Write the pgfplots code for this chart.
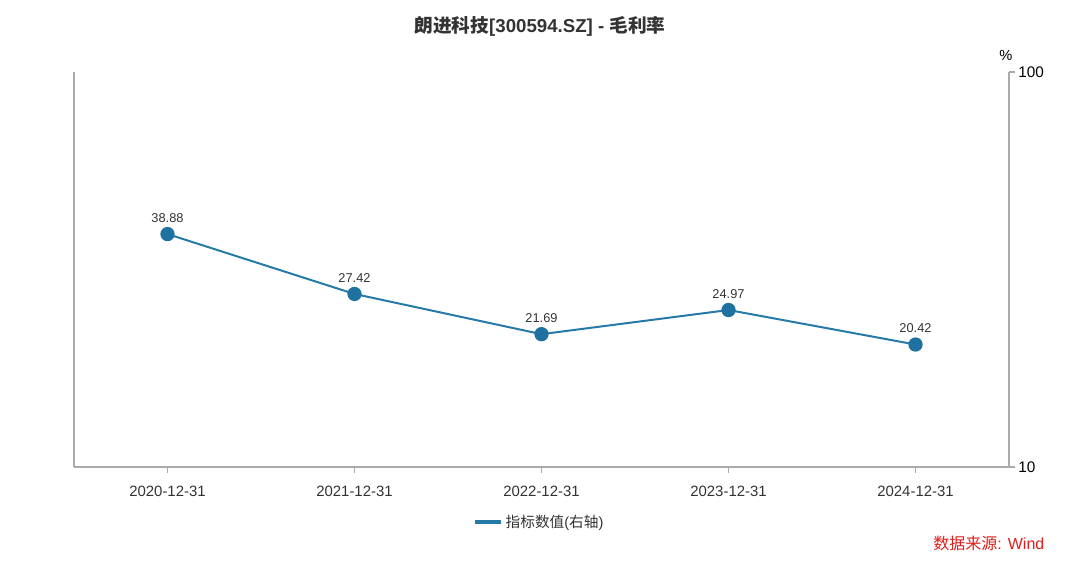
\documentclass[border=0pt]{standalone}
\usepackage{pgfplots}
\pgfplotsset{compat=1.18}
\usepackage{fontspec}
\setmainfont{Liberation Sans}
\newfontfamily\cjk{Noto Sans CJK SC}
\definecolor{lineblue}{RGB}{38,122,168}
\definecolor{dotblue}{RGB}{31,114,160}
\definecolor{axgray}{RGB}{170,170,170}
\definecolor{txt}{RGB}{51,51,51}
\definecolor{srcred}{RGB}{222,30,28}
\begin{document}
\begin{tikzpicture}[x=0.75pt,y=0.75pt]
\useasboundingbox (0,0) rectangle (1080,563);
\begin{axis}[
  at={(55.5pt,72pt)}, anchor=south west,
  scale only axis, width=701.25pt, height=296.25pt,
  xmin=-0.5, xmax=4.5,
  ymode=log, ymin=10, ymax=100,
  axis x line*=bottom, axis y line*=right,
  axis line style={axgray, line width=1.1pt, -},
  xtick={0,1,2,3,4},
  xticklabels={2020-12-31,2021-12-31,2022-12-31,2023-12-31,2024-12-31},
  ytick={10,100}, yticklabels={10,100},
  minor ytick={}, minor tick length=0pt,
  tick align=outside, major tick length=4.5pt,
  tick style={axgray, line width=1pt},
  x tick label style={font=\fontsize{11.2}{13}\selectfont, text=txt, yshift=-6.5pt},
  y tick label style={font=\fontsize{11.5}{13}\selectfont, text=black, xshift=-1pt},
  /pgf/number format/assume math mode=true,
  point meta=rawy,
  nodes near coords,
  nodes near coords style={font=\fontsize{9.6}{11}\selectfont, text=txt, anchor=south, yshift=4.5pt,
     /pgf/number format/.cd, fixed, precision=2, zerofill, assume math mode=true},
  legend style={at={(0.498,-0.139)}, anchor=center, draw=none, fill=none,
     font=\fontsize{11}{13}\selectfont, text=txt, legend columns=1},
  legend image code/.code={\draw[lineblue, line width=2.4pt] (-4.5pt,0pt) -- (15.5pt,0pt);},
  clip=false,
]
\addplot[lineblue, line width=1.5pt, mark=*, mark size=4.6pt,
  mark options={fill=dotblue, draw=dotblue}]
  coordinates {(0,38.88) (1,27.42) (2,21.69) (3,24.97) (4,20.42)};
\addlegendentry{{\cjk 指标数值}({\cjk 右轴})}
\draw[axgray, line width=1.1pt] (rel axis cs:0,0) -- (rel axis cs:0,1);
\end{axis}
\node[font=\bfseries\fontsize{14}{16}\selectfont, text=txt] at (540,537) {{\cjk 朗进科技}[300594.SZ] - {\cjk 毛利率}};
\node[font=\fontsize{11}{12}\selectfont] at (1006,508) {\%};
\node[font=\fontsize{12}{14}\selectfont, text=srcred, anchor=east] at (1049,20) {{\cjk 数据来源}: Wind};
\end{tikzpicture}
\end{document}
